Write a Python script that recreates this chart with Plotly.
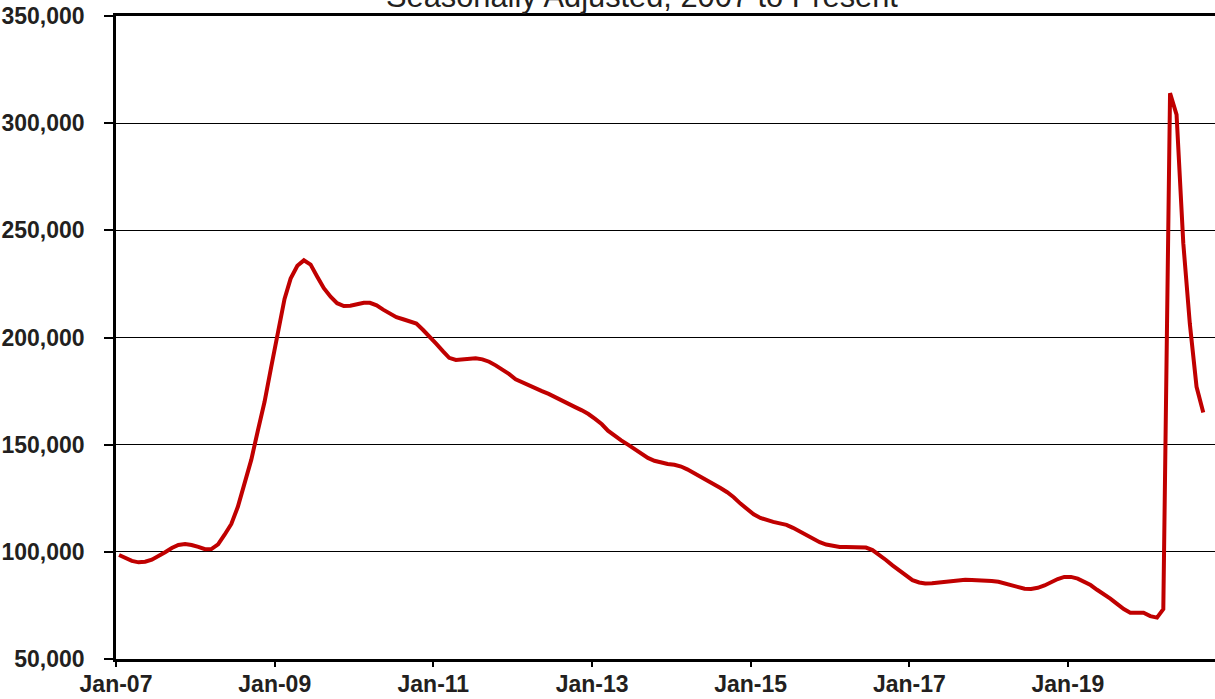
import pandas as pd
import plotly.graph_objects as go

# Monthly values, Jan 2007 .. Sep 2020
v2007 = [98500, 97000, 95800, 95100, 95400, 96300, 97800, 99800, 101800, 103200, 103600, 103200]
v2008 = [102300, 101200, 101300, 103500, 108000, 113000, 121000, 132000, 143000, 156500, 170000, 186000]
v2009 = [201500, 218000, 227500, 233500, 236000, 234000, 228500, 223000, 219000, 216000, 214700, 214800]
v2010 = [215500, 216200, 216200, 215000, 213000, 211000, 209500, 208500, 207600, 206500, 203500, 200000]
v2011 = [197000, 193500, 190500, 189500, 189700, 190200, 190300, 189800, 188700, 187000, 185000, 183000]
v2012 = [180500, 179000, 177500, 176300, 175000, 173700, 172300, 170500, 169000, 167500, 166000, 164300]
v2013 = [162000, 159500, 156500, 154000, 152000, 150000, 148000, 145800, 143800, 142500, 141500, 141000]
v2014 = [140600, 139800, 138500, 136800, 135000, 133200, 131500, 129800, 127800, 125500, 122500, 120000]
v2015 = [117500, 115800, 114800, 114000, 113300, 112600, 111200, 109600, 107800, 106000, 104500, 103400]
v2016 = [102700, 102300, 102200, 102200, 102300, 102000, 100800, 98700, 96200, 93700, 91200, 88800]
v2017 = [86800, 85700, 85200, 85300, 85700, 86200, 86600, 86900, 87000, 86900, 86800, 86600]
v2018 = [86400, 86000, 85300, 84300, 83400, 82800, 82700, 83200, 84300, 85800, 87300, 88300]
v2019 = [88300, 87500, 86200, 84500, 82300, 80400, 78200, 75700, 73300, 71600, 71400, 71600]
v2020 = [70000, 69300, 73300, 314000, 304000, 244000, 206500, 177000, 165000]

values = v2007 + v2008 + v2009 + v2010 + v2011 + v2012 + v2013 + v2014 + v2015 + v2016 + v2017 + v2018 + v2019 + v2020
months = pd.date_range("2007-01-01", periods=len(values), freq="MS") + pd.Timedelta(days=14)

tick_dates = ["2007-01-01", "2009-01-01", "2011-01-01", "2013-01-01", "2015-01-01", "2017-01-01", "2019-01-01"]
tick_labels = ["Jan-07", "Jan-09", "Jan-11", "Jan-13", "Jan-15", "Jan-17", "Jan-19"]
y_ticks = [50000, 100000, 150000, 200000, 250000, 300000, 350000]

title_text = "Seasonally Adjusted, 2007 to Present"

TXT = "#231F20"
FONT = "Liberation Sans, Arial, sans-serif"

fig = go.Figure()
fig.add_trace(go.Scatter(
    x=months, y=values, mode="lines",
    line=dict(color="#C00000", width=4),
    hoverinfo="skip", showlegend=False,
))

fig.update_layout(
    width=1215, height=699,
    margin=dict(l=116, r=0, t=16, b=40, autoexpand=False),
    paper_bgcolor="white", plot_bgcolor="white",
    font=dict(family=FONT, color=TXT),
    showlegend=False,
    annotations=[dict(
        text=title_text, xref="paper", yref="paper", x=0.479, y=1,
        xanchor="center", yanchor="bottom", showarrow=False,
        font=dict(size=30.8, family=FONT, color=TXT),
    )],
)

fig.update_xaxes(
    type="date",
    range=["2007-01-01", "2020-11-08"],
    tickvals=tick_dates, ticktext=tick_labels,
    ticks="outside", ticklen=5, tickwidth=1.5, tickcolor="black",
    showline=True, linecolor="black", linewidth=2.5, mirror=True,
    showgrid=False, zeroline=False,
    tickfont=dict(size=23, family=FONT, color=TXT, weight="bold"),
    ticklabelstandoff=-2,
    automargin=False,
)
fig.update_yaxes(
    range=[50000, 350000],
    tickvals=y_ticks, tickformat=",d",
    ticks="outside", ticklen=9, tickwidth=1.5, tickcolor="black",
    showline=True, linecolor="black", linewidth=2.5,
    showgrid=True, gridcolor="black", gridwidth=1.3,
    zeroline=False,
    tickfont=dict(size=23, family=FONT, color=TXT, weight="bold"),
    ticklabelstandoff=15,
    automargin=False,
)

fig.write_html(
    "out.html",
    config={"displayModeBar": False},
    post_script="document.body.style.margin='0';document.body.style.overflow='hidden';",
)
